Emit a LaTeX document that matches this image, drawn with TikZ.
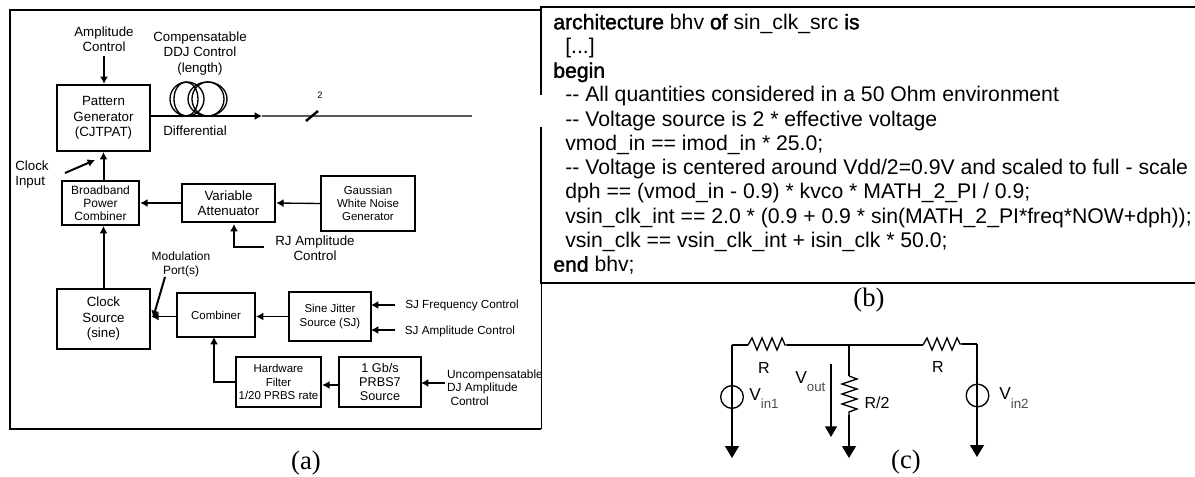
\documentclass[tikz,border=0pt]{standalone}
\usepackage{fontspec}
\setmainfont{Liberation Sans}
\newfontfamily\capfont{Liberation Serif}
\newfontfamily\kwfont[FakeBold=1.6]{Liberation Sans}
\usetikzlibrary{arrows.meta}

\begin{document}
\begin{tikzpicture}[
  x=0.75pt,y=-0.75pt,
  block/.style={draw,line width=1.6pt,inner sep=0pt,align=center,font=\fontsize{10}{11.6}\selectfont},
  sblock/.style={block,line width=1.6pt,font=\fontsize{8.6}{9.9}\selectfont},
  lbl/.style={inner sep=0pt,align=center,font=\fontsize{10}{11.3}\selectfont},
  slbl/.style={inner sep=0pt,align=center,font=\fontsize{9}{10}\selectfont},
  sig/.style={line width=1.5pt,-{Latex[length=5.5pt,width=6pt]}},
  tsig/.style={line width=1pt,-{Latex[length=5.5pt,width=6pt]}},
  gnd/.style={line width=1pt,-{Triangle[length=9pt,width=10.5pt]}},
  src/.style={circle,draw,line width=1pt,inner sep=0pt,minimum size=17pt},
  cir/.style={line width=1pt},
  clbl/.style={inner sep=0pt,font=\fontsize{12}{14}\selectfont},
  code/.style={anchor=base west,inner sep=0pt,font=\fontsize{15.9}{18}\selectfont},
  caption/.style={inner sep=0pt,font=\capfont\fontsize{20}{22}\selectfont}
]
  \useasboundingbox (0,0) rectangle (1195,477);
  % frame of (a) and (b)
  \draw[line width=1.8pt] (541,10) -- (10,10) -- (10,429) -- (541,429);
  \draw[line width=0.7pt] (541,283) -- (541,429);
  \draw[line width=2pt] (541,95) -- (541,7) -- (1195,7);
  \draw[line width=2pt] (541,127) -- (541,283) -- (1195,283);

  % blocks
  \node[block,minimum width=70pt,minimum height=49.5pt] (pattern) at (103.5,118) {Pattern\\Generator\\(CJTPAT)};
  \node[sblock,font=\fontsize{9}{9.9}\selectfont,minimum width=58pt,minimum height=33pt] (combinerb) at (100.5,203) {Broadband\\Power\\Combiner};
  \node[block,minimum width=70pt,minimum height=28.5pt] (attenuator) at (228.5,203) {Variable\\Attenuator};
  \node[sblock,minimum width=70pt,minimum height=41pt] (noise) at (368,203.5) {Gaussian\\White Noise\\Generator};
  \node[block,minimum width=70pt,minimum height=45pt] (clock) at (103.5,319) {Clock\\Source\\(sine)};
  \node[sblock,minimum width=58.5pt,minimum height=33pt] (combiner) at (216,315) {Combiner};
  \node[sblock,minimum width=61.5pt,minimum height=37pt] (sine) at (330,316.5) {Sine Jitter\\Source (SJ)};
  \node[sblock,minimum width=64pt,minimum height=37.5pt] (hardware) at (278.5,382) {Hardware\\Filter\\1/20 PRBS rate};
  \node[block,font=\fontsize{9.5}{10.5}\selectfont,minimum width=61.5pt,minimum height=37.5pt] (prbs) at (380,382) {1 Gb/s\\PRBS7\\Source};

  % labels of (a)
  \node[lbl] (ampl) at (104,39) {Amplitude\\Control};
  \node[lbl] (ddj) at (200,53.5) {Compensatable\\DDJ Control\\(length)};
  \node[lbl] (diff) at (195,131) {Differential};
  \node[slbl,font=\fontsize{7}{8}\selectfont] (two) at (320,95) {2};
  \node[lbl,align=left] (clkin) at (32,175) {Clock\\Input};
  \node[lbl] (rjctl) at (315,248) {RJ Amplitude\\Control};
  \node[slbl] (modport) at (181,264.5) {Modulation\\Port(s)};
  \node[slbl,font=\fontsize{8.8}{10}\selectfont] (sjfreq) at (462,305) {SJ Frequency Control};
  \node[slbl,font=\fontsize{8.8}{10}\selectfont] (sjampl) at (460,331) {SJ Amplitude Control};
  \node[slbl,align=left,font=\fontsize{8.9}{10}\selectfont] (djctl) at (495,387.5) {Uncompensatable\\DJ Amplitude\\\hspace{2.5pt}Control};

  % fibre coil
  \foreach \cx/\rx in {187/17,186/12,207.5/19.5,208/16}
    \draw[line width=1pt] (\cx,99) ellipse ({\rx*0.75pt} and {17*0.75pt});

  % connectors of (a)
  \coordinate (coilin) at (182,116);
  \coordinate (coilout) at (262,116);
  \coordinate (busend) at (472,116);
  \coordinate (slasha) at (306,121);
  \coordinate (slashb) at (318,111);
  \coordinate (clka) at (65,173);
  \coordinate (clkb) at (95,160);
  \coordinate (rja) at (264,247);
  \coordinate (modend) at (153,318);
  \coordinate (sjf) at (395,305);
  \coordinate (sjfe) at (371,305);
  \coordinate (sja) at (395,330);
  \coordinate (sjae) at (371,330);
  \coordinate (dja) at (445,383);
  \coordinate (dje) at (421,383);
  \draw[sig] (ampl.south |- 0,56) -- (ampl.south |- pattern.north);
  \draw[line width=1.3pt,-{Latex[length=5.5pt,width=6pt]}] (pattern.east |- coilin) -- (coilout);
  \draw[line width=0.8pt,gray!70!black] (coilout) -- (busend);
  \draw[line width=1.8pt] (slasha) -- (slashb);
  \draw[sig] (combinerb.north -| pattern.south) -- (pattern.south);
  \draw[sig] (clock.north) -- (clock.north |- combinerb.south);
  \draw[sig] (clka) -- (clkb);
  \draw[tsig] (attenuator.west) -- (combinerb.east);
  \draw[tsig] (noise.west) -- (attenuator.east);
  \draw[sig] (rja) -- (234,247) -- (234,224);
  \draw[tsig] (combiner.west |- sine.west) -- (clock.east |- sine.west);
  \draw[sig] (modport.south -| 165,0) -- (modend);
  \draw[tsig] (sine.west) -- (combiner.east |- sine.west);
  \draw[sig] (sjf) -- (sjfe);
  \draw[tsig] (sja) -- (sjae);
  \draw[sig] (hardware.west) -- (214,382) -- (214,337);
  \draw[tsig] ([yshift=-2.25pt]prbs.west) -- ([yshift=-2.25pt]hardware.east);
  \draw[sig] (dja) -- (dje);

  % code of (b)
  \node[code] (l1) at (553,29.3) {{\kwfont architecture} bhv {\kwfont of} sin\_clk\_src {\kwfont is}};
  \node[code] (l2) at (565,53.5) {[...]};
  \node[code] (l3) at (553,77.8) {{\kwfont begin}};
  \node[code] (l4) at (565,102) {{-}{-} All quantities considered in a 50 Ohm environment};
  \node[code] (l5) at (565,126.3) {{-}{-} Voltage source is 2 * effective voltage};
  \node[code] (l6) at (565,150.5) {vmod\_in == imod\_in * 25.0;};
  \node[code] (l7) at (565,174.7) {{-}{-} Voltage is centered around Vdd/2=0.9V and scaled to full - scale};
  \node[code] (l8) at (565,199) {dph == (vmod\_in - 0.9) * kvco * MATH\_2\_PI / 0.9;};
  \node[code] (l9) at (565,223.2) {vsin\_clk\_int == 2.0 * (0.9 + 0.9 * sin(MATH\_2\_PI*freq*NOW+dph));};
  \node[code] (l10) at (565,247.5) {vsin\_clk == vsin\_clk\_int + isin\_clk * 50.0;};
  \node[code] (l11) at (553,271.7) {{\kwfont end} bhv;};

  % circuit (c)
  \node[src] (v1) at (732,397) {};
  \node[src] (v2) at (977.5,395.5) {};
  \coordinate (tl) at (732,345);
  \coordinate (r1a) at (748,345);
  \coordinate (r1b) at (787,345);
  \coordinate (mid) at (849,345);
  \coordinate (r2a) at (923,345);
  \coordinate (r2b) at (962,344);
  \coordinate (tr) at (977,344);
  \coordinate (r3a) at (849,376);
  \coordinate (r3b) at (849,415);
  \coordinate (g1) at (732,458);
  \coordinate (g2) at (849,458);
  \coordinate (g3) at (977,457);
  \draw[cir] (r1a) -- (tl);
  \draw[gnd] (tl) -- (g1);
  \draw[cir] (r1a) -- ++(4,-7) -- ++(5,12) -- ++(5,-12) -- ++(5,12) -- ++(5,-12) -- ++(5,12) -- ++(5,-12) -- ++(3,7) -- (r1b);
  \draw[cir] (r1b) -- (mid) -- (r2a);
  \draw[cir] (r2a) -- ++(4,-7) -- ++(5,12) -- ++(5,-12) -- ++(5,12) -- ++(5,-12) -- ++(5,12) -- ++(5,-12) -- ++(3,6) -- (r2b);
  \draw[cir] (r2b) -- (tr);
  \draw[gnd] (tr) -- (g3);
  \draw[cir] (mid) -- (r3a);
  \draw[cir] (r3a) -- ++(8,3) -- ++(-15,5) -- ++(15,5) -- ++(-15,5) -- ++(15,5) -- ++(-15,5) -- ++(15,5) -- ++(-8,3) -- (r3b);
  \draw[gnd] (r3b) -- (g2);
  \coordinate (vouta) at (831,364);
  \coordinate (voutb) at (831,437);
  \draw[line width=1pt,-{Triangle[length=8pt,width=9pt]}] (vouta) -- (voutb);
  \node[clbl] (rl1) at (764,368) {R};
  \node[clbl] (rl2) at (938,367) {R};
  \node[clbl] (rl3) at (877,403) {R/2};
  \node[clbl,anchor=west,font=\fontsize{13}{15}\selectfont] (vl1) at (749,399) {V\raisebox{-6pt}{\fontsize{10}{12}\selectfont\color{black!70}in1}};
  \node[clbl,anchor=west,font=\fontsize{13}{15}\selectfont] (vl2) at (999,398) {V\raisebox{-7pt}{\fontsize{10}{12}\selectfont\color{black!70}in2}};
  \node[clbl,anchor=west,font=\fontsize{13}{15}\selectfont] (vl3) at (795,382) {V\raisebox{-6pt}{\fontsize{10}{12}\selectfont\color{black!70}out}};

  % captions
  \node[caption] (capa) at (306,463) {(a)};
  \node[caption] (capb) at (869,300) {(b)};
  \node[caption] (capc) at (906,462) {(c)};
\end{tikzpicture}
\end{document}
